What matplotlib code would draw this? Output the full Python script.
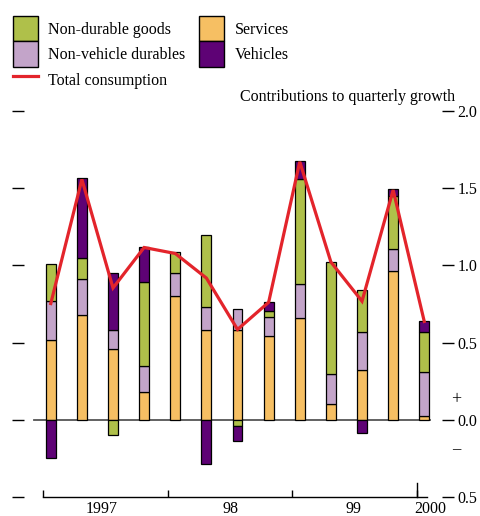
import matplotlib
matplotlib.use("Agg")
import matplotlib.pyplot as plt
from matplotlib.patches import Patch
from matplotlib.lines import Line2D
from matplotlib.ticker import FuncFormatter
import numpy as np

plt.rcParams['font.family'] = ['Liberation Serif', 'DejaVu Serif']

# quarters 1997Q1 .. 2000Q1
years = [1997, 1997, 1997, 1997, 1998, 1998, 1998, 1998, 1999, 1999, 1999, 1999, 2000]
quarters = [1, 2, 3, 4, 1, 2, 3, 4, 1, 2, 3, 4, 1]

services = [0.514, 0.677, 0.460, 0.183, 0.800, 0.583, 0.583, 0.540, 0.662, 0.105, 0.325, 0.963, 0.022]
non_vehicle_durables = [0.258, 0.233, 0.123, 0.168, 0.151, 0.150, 0.135, 0.125, 0.220, 0.190, 0.245, 0.140, 0.288]
non_durable_goods = [0.234, 0.135, -0.099, 0.544, 0.135, 0.465, -0.039, 0.038, 0.679, 0.727, 0.273, 0.349, 0.258]
vehicles = [-0.247, 0.521, 0.370, 0.221, 0.0, -0.288, -0.101, 0.058, 0.114, 0.0, -0.086, 0.045, 0.069]
total_consumption = [0.753, 1.557, 0.854, 1.116, 1.077, 0.918, 0.585, 0.761, 1.671, 1.022, 0.768, 1.488, 0.637]

year_ticks = [1997, 1998, 1999, 2000]
year_labels = ['1997', '98', '99', '2000']
y_ticks = [-0.5, 0.0, 0.5, 1.0, 1.5, 2.0]

c_nd = '#AFC04A'
c_sv = '#F6BF63'
c_nvd = '#C3A4C9'
c_veh = '#5E0275'
c_line = '#E3242B'

W, H = 480, 516
fig = plt.figure(figsize=(W / 100, H / 100), dpi=100)

ax_left, ax_right, ax_top, ax_bot = 24, 441.5, 100, 497
ax = fig.add_axes([ax_left / W, 1 - ax_bot / H, (ax_right - ax_left) / W, (ax_bot - ax_top) / H])

x = np.array([y + (q - 1) * 0.25 + 0.06 for y, q in zip(years, quarters)])
bw = 0.08

series = [(services, c_sv), (non_vehicle_durables, c_nvd), (non_durable_goods, c_nd), (vehicles, c_veh)]
pos_bottom = np.zeros(len(x))
neg_bottom = np.zeros(len(x))
for vals, col in series:
    v = np.array(vals)
    pos = np.where(v > 0, v, 0)
    neg = np.where(v < 0, v, 0)
    mpos = v > 0
    mneg = v < 0
    ax.bar(x[mpos], pos[mpos], bw, bottom=pos_bottom[mpos], color=col, edgecolor='black', linewidth=0.9, zorder=3)
    ax.bar(x[mneg], neg[mneg], bw, bottom=neg_bottom[mneg], color=col, edgecolor='black', linewidth=0.9, zorder=3)
    pos_bottom += pos
    neg_bottom += neg

# zero line
ax.plot([x[0] - 0.135, x[-1] + 0.05], [0, 0], color='#555555', linewidth=1.3, zorder=2)

ax.plot(x, total_consumption, color=c_line, linewidth=2.3, zorder=5, solid_joinstyle='miter')

ax.set_xlim(1997 + (ax_left - 43.3) / 124.5, 1997 + (ax_right - 43.3) / 124.5)
ax.set_ylim(-0.5, (420 - ax_top) / 154.5)

for s in ['top', 'left', 'right']:
    ax.spines[s].set_visible(False)
ax.spines['bottom'].set_bounds(1997, 2000.08)
ax.spines['bottom'].set_linewidth(1.0)

ax.set_yticks(y_ticks)
ax.yaxis.set_major_formatter(FuncFormatter(lambda v, p: f"{abs(v):.1f}"))
ax.tick_params(axis='y', which='major', left=True, right=True, labelleft=False, labelright=True,
               direction='out', length=8.3, width=1.0, pad=3.0, labelsize=11.5)

ax.set_xticks(year_ticks)
ax.set_xticklabels([])
ax.tick_params(axis='x', which='major', direction='in', length=5.2, width=1.0)
ax.set_xticks([1997.47, 1998.5, 1999.49, 2000.11], minor=True)
ax.set_xticklabels(year_labels, minor=True)
ax.tick_params(axis='x', which='minor', length=0, pad=3, labelsize=11.5)
# taller tick at 2000
ax.plot([2000, 2000], [-0.5, -0.5 + 14 / 154.5], color='black', linewidth=1.0, clip_on=False)

ax.text(1.035, (0.13 + 0.5) / (ax.get_ylim()[1] + 0.5), '+', transform=ax.transAxes,
        ha='center', va='center', fontsize=13)
ax.text(1.035, (-0.19 + 0.5) / (ax.get_ylim()[1] + 0.5), '\u2013', transform=ax.transAxes,
        ha='center', va='center', fontsize=12)

fig.text(455 / W, 1 - 97 / H, 'Contributions to quarterly growth', ha='right', va='center', fontsize=11.5)

handles = [
    Patch(facecolor=c_nd, edgecolor='black', linewidth=1.0, label='Non-durable goods'),
    Patch(facecolor=c_nvd, edgecolor='black', linewidth=1.0, label='Non-vehicle durables'),
    Line2D([], [], color=c_line, linewidth=2.3, label='Total consumption'),
    Patch(facecolor=c_sv, edgecolor='black', linewidth=1.0, label='Services'),
    Patch(facecolor=c_veh, edgecolor='black', linewidth=1.0, label='Vehicles'),
]
fig.legend(handles=handles, ncol=2, loc='upper left', bbox_to_anchor=(12.7 / W, 1 - 15.7 / H),
           frameon=False, fontsize=11.5, borderpad=0, labelspacing=0, handlelength=1.6,
           handleheight=2.1, handletextpad=0.63, columnspacing=0.83, borderaxespad=0)

fig.savefig('out.png', dpi=100)
